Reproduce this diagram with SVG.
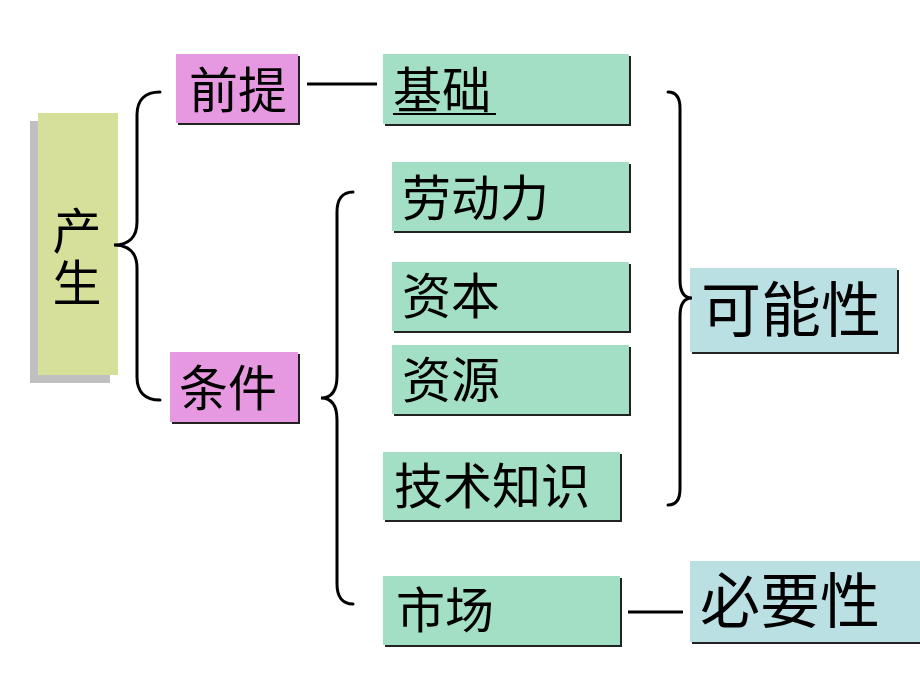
<svg xmlns="http://www.w3.org/2000/svg" width="920" height="690" viewBox="0 0 920 690">
<style>
.t{font-family:"Noto Sans CJK SC","Noto Sans",sans-serif;fill:#000}
.m{font-size:49px}
.l{font-size:60px}
.sh{fill:#222}
.brace{fill:none;stroke:#000;stroke-width:3;stroke-linecap:round}
.ln{stroke:#000;stroke-width:3}
</style>
<rect width="920" height="690" fill="#fff"/>
<g id="chansheng">
<rect x="30" y="121" width="80" height="262" fill="#c0c0c0"/>
<rect x="38" y="113" width="80" height="262" fill="#d6e09b"/>
<text class="t m" x="77" y="206" writing-mode="vertical-rl" letter-spacing="3">产生</text>
</g>
<g id="qianti">
<rect class="sh" x="178" y="56" width="122" height="69"/>
<rect x="176" y="54" width="122" height="69" fill="#e699e0"/>
<text class="t m" x="189" y="108">前提</text>
</g>
<g id="tiaojian">
<rect class="sh" x="172" y="354" width="128" height="70"/>
<rect x="170" y="352" width="128" height="70" fill="#e699e0"/>
<text class="t m" x="179" y="406">条件</text>
</g>
<g id="jichu">
<rect class="sh" x="385" y="56" width="246" height="70"/>
<rect x="383" y="54" width="246" height="70" fill="#a3dfc4"/>
<text class="t m" x="393" y="108">基础</text>
<line x1="393" y1="114" x2="496" y2="114" stroke="#000" stroke-width="2"/>
</g>
<g id="laodongli">
<rect class="sh" x="394" y="164" width="237" height="69"/>
<rect x="392" y="162" width="237" height="69" fill="#a3dfc4"/>
<text class="t m" x="402" y="216">劳动力</text>
</g>
<g id="ziben">
<rect class="sh" x="394" y="264" width="237" height="69"/>
<rect x="392" y="262" width="237" height="69" fill="#a3dfc4"/>
<text class="t m" x="402" y="314">资本</text>
</g>
<g id="ziyuan">
<rect class="sh" x="394" y="347" width="237" height="69"/>
<rect x="392" y="345" width="237" height="69" fill="#a3dfc4"/>
<text class="t m" x="402" y="398">资源</text>
</g>
<g id="jishuzhishi">
<rect class="sh" x="385" y="454" width="237" height="68"/>
<rect x="383" y="452" width="237" height="68" fill="#a3dfc4"/>
<text class="t m" x="394" y="504">技术知识</text>
</g>
<g id="shichang">
<rect class="sh" x="385" y="578" width="237" height="69"/>
<rect x="383" y="576" width="237" height="69" fill="#a3dfc4"/>
<text class="t m" x="396" y="628">市场</text>
</g>
<g id="kenengxing">
<rect class="sh" x="692" y="270" width="207" height="84"/>
<rect x="690" y="268" width="207" height="84" fill="#bbe0e3"/>
<text class="t l" x="701" y="332">可能性</text>
</g>
<g id="biyaoxing">
<rect class="sh" x="692" y="563" width="235" height="81"/>
<rect x="690" y="561" width="235" height="81" fill="#bbe0e3"/>
<text class="t l" x="700" y="623">必要性</text>
</g>
<g id="connectors">
<path class="brace" d="M160,92 C145,92 137,100 137,115 L137,222 C137,238 128,245 114,245 C128,245 137,252 137,268 L137,377 C137,392 145,400 160,400"/>
<path class="brace" d="M353,192 C342,192 337,200 337,212 L337,376 C337,391 331,398 321,398 C331,398 337,405 337,420 L337,584 C337,596 342,604 353,604"/>
<path class="brace" d="M668,92 C676,92 680,98 680,108 L680,280 C680,292 684,298 692,298 C684,298 680,304 680,316 L680,489 C680,499 676,505 668,505"/>
<line class="ln" x1="307" y1="84" x2="377" y2="84"/>
<line class="ln" x1="628" y1="612" x2="683" y2="612"/>
</g>
</svg>
